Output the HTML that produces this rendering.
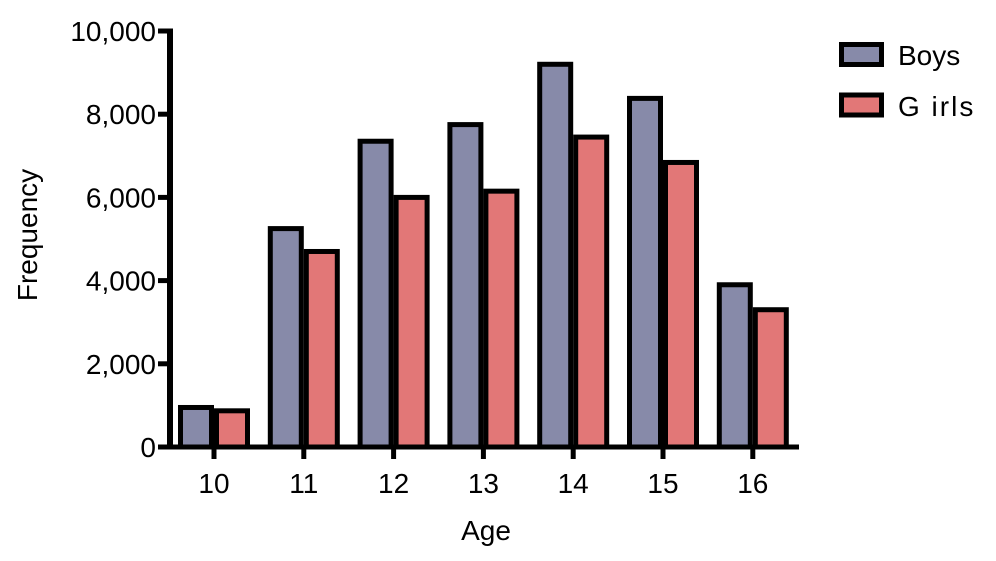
<!DOCTYPE html>
<html><head><meta charset="utf-8"><style>
body{margin:0;background:#fff}
svg text{font-family:"Liberation Sans",Arial,sans-serif;fill:#000}
</style></head><body>
<svg id="chart" width="996" height="556">
<g id="bars"></g>
<g id="axes"></g>
<text x="486" y="540" font-size="28" text-anchor="middle">Age</text>
<text transform="translate(37,235) rotate(-90)" font-size="28" text-anchor="middle">Frequency</text>
<g>
<g><rect x="841.5" y="44.5" width="40" height="20" fill="#878aa9" stroke="#000" stroke-width="5"/><text x="898" y="65" font-size="28">Boys</text></g>
<g><rect x="841.5" y="95" width="40" height="20" fill="#e27777" stroke="#000" stroke-width="5"/><text x="898" y="116" font-size="28" letter-spacing="2">G irls</text></g>
</g>
</svg>
<script>
const categories=["10","11","12","13","14","15","16"];
const boys=[950,5250,7350,7750,9200,8380,3900];
const girls=[870,4700,6000,6150,7450,6840,3300];
const yTicks=[0,2000,4000,6000,8000,10000];
const yTickLabels=["0","2,000","4,000","6,000","8,000","10,000"];
const NS="http://www.w3.org/2000/svg";
const y0=447,yTop=31,yMax=10000;
function y(v){return y0-(y0-yTop)*v/yMax;}
function xc(i){return 214+i*89.8;}
const bars=document.getElementById('bars'),axes=document.getElementById('axes');
function mk(t,a,p){const e=document.createElementNS(NS,t);for(const k in a)e.setAttribute(k,a[k]);p.appendChild(e);return e;}
const bw=31;
categories.forEach((c,i)=>{
  const b=mk('rect',{x:xc(i)-bw-2.5,y:y(boys[i]),width:bw,height:y0-y(boys[i]),fill:'#878aa9',stroke:'#000','stroke-width':5},bars);
  
  
  const g=mk('rect',{x:xc(i)+2.5,y:y(girls[i]),width:bw,height:y0-y(girls[i]),fill:'#e27777',stroke:'#000','stroke-width':5},bars);
  
  
  const t=mk('line',{x1:xc(i),x2:xc(i),y1:y0,y2:y0+12,stroke:'#000','stroke-width':5},axes);
  
  
  const l=mk('text',{x:xc(i),y:y0+46,'font-size':28,'text-anchor':'middle'},axes);
  l.textContent=c;
  
  
});
const ya=mk('line',{x1:170,x2:170,y1:yTop-2.5,y2:y0+2.5,stroke:'#000','stroke-width':6},axes);


const xa=mk('line',{x1:167,x2:799,y1:y0,y2:y0,stroke:'#000','stroke-width':5},axes);


yTicks.forEach((v,i)=>{
  const t=mk('line',{x1:158,x2:170,y1:y(v),y2:y(v),stroke:'#000','stroke-width':5},axes);
  
  
  const l=mk('text',{x:156,y:y(v)+10,'font-size':28,'text-anchor':'end'},axes);
  l.textContent=yTickLabels[i];
  
  
});
</script>
</body></html>
